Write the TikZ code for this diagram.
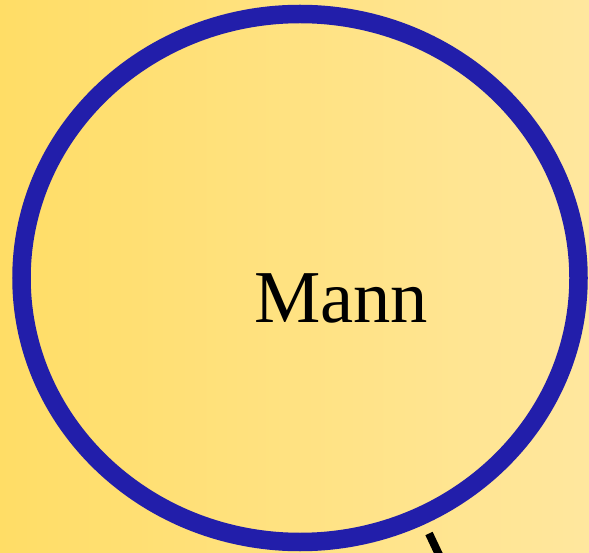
\documentclass[tikz,border=0pt]{standalone}
\usepackage{fontspec}
\setmainfont{Liberation Serif}
\usetikzlibrary{shapes.geometric}
\definecolor{bgleft}{RGB}{255,221,102}
\definecolor{bgright}{RGB}{255,231,158}
\definecolor{ringblue}{RGB}{34,30,170}
\tikzset{
  ring/.style={ellipse, draw=ringblue, line width=18.5pt, inner sep=0pt,
    minimum width=557pt, minimum height=528pt},
  label text/.style={inner sep=0pt, font=\fontsize{74.6}{80}\selectfont, text=black},
  edge line/.style={draw=black, line width=8pt}
}
\begin{document}
\begin{tikzpicture}[x=1pt,y=-1pt]
\useasboundingbox (0,0) rectangle (589,553);
\shade[left color=bgleft, right color=bgright] (0,0) rectangle (589,553);
\node[ring] (mann) at (300,278) {};
\node[label text, anchor=base west] (mannlabel) at (254,322.7) {Mann};
\coordinate (e1) at (429,533.5);
\coordinate (e2) at (450,578);
\draw[edge line] (e1) -- (e2);
\end{tikzpicture}
\end{document}
